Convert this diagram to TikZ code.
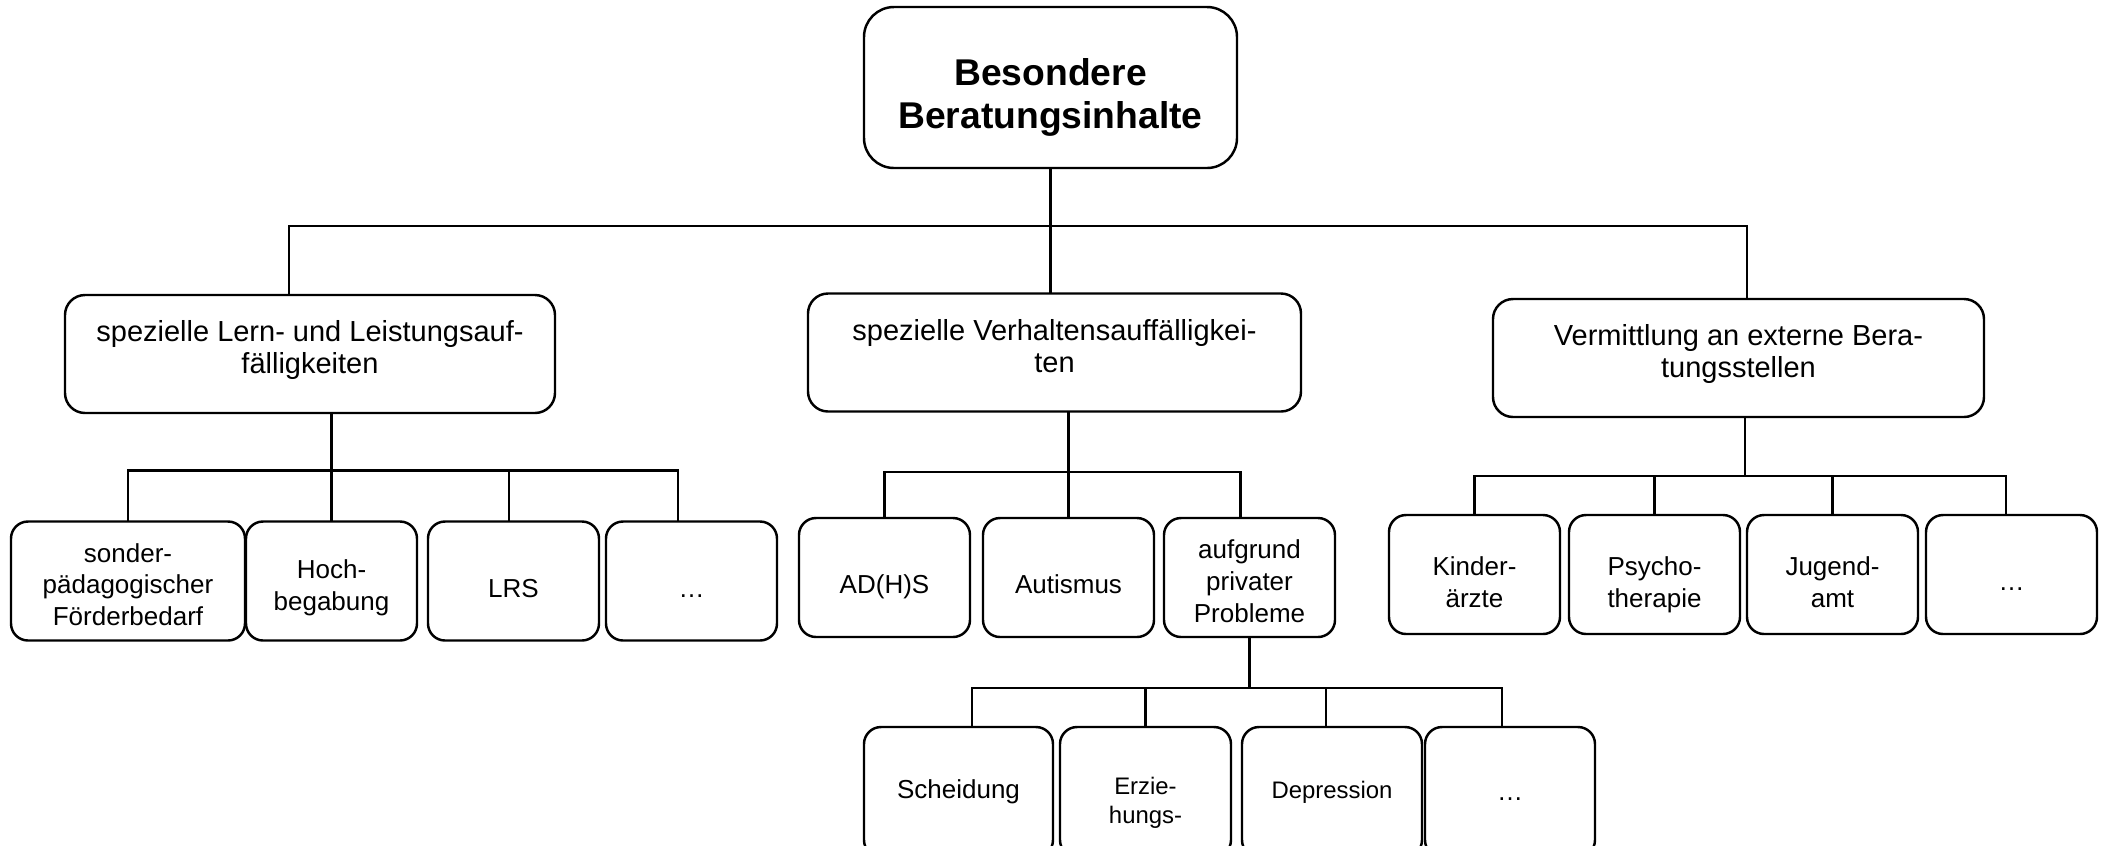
\documentclass[tikz,border=0pt]{standalone}
\usepackage{fontspec}
\setmainfont{Liberation Sans}
\usetikzlibrary{positioning}

\tikzset{
  kasten/.style={draw, line width=0.7pt, rounded corners=0.17cm, inner sep=0pt, outer sep=0pt, align=center},
  haupt/.style={kasten, rounded corners=0.3cm, minimum width=3.73cm, minimum height=1.61cm,
    font=\fontsize{10.6}{12.2}\selectfont\bfseries, text height=0.89cm},
  bereich/.style={kasten, rounded corners=0.2cm, minimum width=4.91cm, minimum height=1.18cm,
    font=\fontsize{8.25}{9.1}\selectfont,
    execute at end node={\rule[-0.14cm]{0pt}{0pt}}},
  thema/.style={kasten, minimum width=1.71cm, minimum height=1.19cm,
    font=\fontsize{7.4}{9}\selectfont,
    execute at begin node={\rule{0pt}{0.38cm}},
    execute at end node={\rule[-0.06cm]{0pt}{0pt}}},
  detail/.style={kasten, minimum width=1.71cm, minimum height=1.30cm,
    font=\fontsize{7.4}{8.5}\selectfont},
  klein/.style={font=\fontsize{6.8}{8.3}\selectfont},
  linie/.style={line width=0.6pt}
}

\begin{document}
\begin{tikzpicture}
    \useasboundingbox (0,0) rectangle (21.09,-8.45);
    \clip (0,0) rectangle (21.09,-8.45);

    % Besondere Beratungsinhalte
    \node[haupt] (top) at (10.505,-0.875) {Besondere\\Beratungsinhalte};
    % Lern- und Leistungsauffaelligkeiten
    \node[bereich, minimum width=4.90cm] (lern) at (3.10,-3.54) {spezielle Lern- und Leistungsauf-\\fälligkeiten};
    % Verhaltensauffaelligkeiten
    \node[bereich, minimum width=4.93cm] (verhalten) at (10.545,-3.525) {spezielle Verhaltensauffälligkei-\\ten};
    % externe Beratungsstellen
    \node[bereich] (extern) at (17.385,-3.58) {Vermittlung an externe Bera-\\tungsstellen};
    \draw[linie] ([xshift=-0.21cm]lern.north) -- ++(0,0.69) -| ([xshift=0.085cm]extern.north);
    \draw[linie] (top.south) -- (top.south |- verhalten.north);

    % unter Lern- und Leistung
    \node[thema, minimum width=2.34cm, text height=0.95cm] (sonder) at (1.28,-5.81) {sonder-\\pädagogischer\\Förderbedarf};
    \node[thema, text height=0.65cm, right=0.01cm of sonder] (hoch) {Hoch-\\begabung};
    \node[thema, right=0.11cm of hoch] (lrs) {LRS};
    \node[thema, right=0.07cm of lrs] (dots1) {…};
    \draw[linie] (hoch.north) -- (hoch.north |- lern.south);
    \draw[linie] (sonder.north) -- ++(0,0.51) -| ([xshift=-0.135cm]dots1.north);
    \draw[linie] ([xshift=-0.045cm]lrs.north) -- ++(0,0.51);

    % unter Verhalten
    \node[thema] (adhs) at (8.845,-5.775) {AD(H)S};
    \node[thema, right=0.13cm of adhs] (autismus) {Autismus};
    \node[thema, text height=0.95cm, right=0.10cm of autismus] (privat) {aufgrund\\privater\\Probleme};
    \draw[linie] (autismus.north) -- (autismus.north |- verhalten.south);
    \draw[linie] (adhs.north) -- ++(0,0.46) -| ([xshift=-0.09cm]privat.north);

    % unter externe Beratungsstellen
    \node[thema, text height=0.71cm] (kinder) at (14.745,-5.745) {Kinder-\\ärzte};
    \node[thema, text height=0.71cm, right=0.09cm of kinder] (psycho) {Psycho-\\therapie};
    \node[thema, text height=0.71cm, right=0.07cm of psycho] (jugend) {Jugend-\\amt};
    \node[thema, right=0.08cm of jugend] (dots3) {…};
    \draw[linie] ([xshift=0.065cm]extern.south) -- ++(0,-0.59);
    \draw[linie] (kinder.north) -- ++(0,0.39) -| ([xshift=-0.055cm]dots3.north);
    \draw[linie] (psycho.north) -- ++(0,0.39);
    \draw[linie] (jugend.north) -- ++(0,0.39);

    % unter private Probleme
    \node[detail, minimum width=1.89cm] (scheidung) at (9.585,-7.92) {Scheidung};
    \node[detail, right=0.07cm of scheidung, label={[klein, align=center, yshift=-0.11cm]center:Erzie-\\hungs-}] (erziehung) {};
    \node[detail, klein, minimum width=1.80cm, right=0.11cm of erziehung] (depression) {Depression};
    \node[detail, minimum width=1.70cm, right=0.03cm of depression] (dots4) {\vphantom{S}…};
    \draw[linie] (privat.south) -- ++(0,-0.52);
    \draw[linie] ([xshift=0.135cm]scheidung.north) -- ++(0,0.39) -| ([xshift=-0.08cm]dots4.north);
    \draw[linie] (erziehung.north) -- ++(0,0.39);
    \draw[linie] ([xshift=-0.06cm]depression.north) -- ++(0,0.39);

\end{tikzpicture}
\end{document}
